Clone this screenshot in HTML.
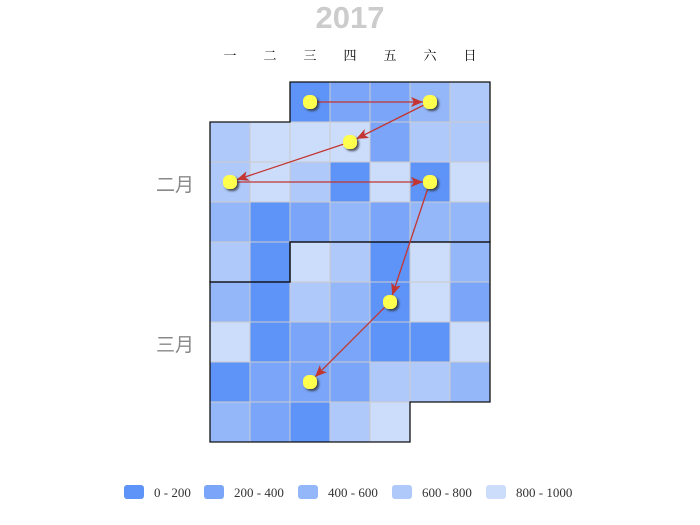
<!DOCTYPE html>
<html><head><meta charset="utf-8"><style>
html,body{margin:0;padding:0;background:#fff;}
svg{display:block;font-family:"Liberation Serif","Noto Serif CJK SC",serif;}
</style></head><body>
<svg id="chart" width="700" height="525">
<defs>
<marker id="arr" viewBox="0 0 12 10" refX="12" refY="5" markerWidth="12" markerHeight="10" markerUnits="userSpaceOnUse" orient="auto"><path d="M0,0 L12,5 L0,10 L3,5 z" fill="#c23531"/></marker>
<filter id="sh" x="-50%" y="-50%" width="200%" height="200%"><feDropShadow dx="2" dy="2" stdDeviation="1" flood-color="#333" flood-opacity="0.8"/></filter>
</defs>
<text x="350" y="28" text-anchor="middle" font-family="Liberation Sans, sans-serif" font-weight="bold" font-size="31" fill="#ccc">2017</text>
<g id="days"></g><g id="cells"></g><g id="borders"></g><g id="lines"></g><g id="dots"></g><g id="legend"></g>
<text x="175" y="191" text-anchor="middle" font-size="19" fill="#888" font-family="Noto Sans CJK SC, sans-serif">二月</text>
<text x="175" y="351" text-anchor="middle" font-size="19" fill="#888" font-family="Noto Sans CJK SC, sans-serif">三月</text>
</svg>
<script>
const dayLabels=["一","二","三","四","五","六","日"];
const startOffset=2;
const values=[100,300,300,500,700, 700,900,900,900,300,700,700, 700,900,700,100,900,100,900, 500,100,300,500,300,500,500, 700,100,900,700,100,900,500, 500,100,700,500,100,900,300, 900,100,300,300,100,100,900, 100,300,300,300,700,700,500, 500,300,100,700,900];
const pointDays=[0,3,8,12,17,37,49];
const pieceLabels=["0 - 200","200 - 400","400 - 600","600 - 800","800 - 1000"];
const pieceMax=[200,400,600,800,1000];
const pieceColors=["#5e93f7","#7aa5f8","#94b7f9","#afc9fa","#ccdcfb"];
const NS="http://www.w3.org/2000/svg";
const X0=210,Y0=82,C=40;
function mk(t,a,p){const e=document.createElementNS(NS,t);for(const k in a)e.setAttribute(k,a[k]);p.appendChild(e);return e;}
function pos(i){const k=i+startOffset;return {col:k%7,row:Math.floor(k/7)};}
function cx(i){return X0+pos(i).col*C+C/2;}
function cy(i){return Y0+pos(i).row*C+C/2;}
function colorOf(v){for(let j=0;j<pieceMax.length;j++)if(v<=pieceMax[j])return pieceColors[j];return pieceColors[4];}
const days=document.getElementById('days');
dayLabels.forEach((d,i)=>{const t=mk('text',{x:X0+i*C+C/2,y:60,'text-anchor':'middle','font-size':13,fill:'#000'},days);t.textContent=d;

});
const cells=document.getElementById('cells');
values.forEach((v,i)=>{const p=pos(i);const r=mk('rect',{x:X0+p.col*C,y:Y0+p.row*C,width:C,height:C,fill:colorOf(v),stroke:'#ccc','stroke-width':1},cells);

});
const b=document.getElementById('borders');
const pf=mk('path',{d:'M290,82 H490 V242 H290 V282 H210 V122 H290 Z',fill:'none',stroke:'#111','stroke-width':1.3},b);


const pm=mk('path',{d:'M290,242 H490 V402 H410 V442 H210 V282 H290 Z',fill:'none',stroke:'#111','stroke-width':1.3},b);


const lines=document.getElementById('lines');
for(let k=0;k<pointDays.length-1;k++){const a=pointDays[k],c=pointDays[k+1];
let x1=cx(a),y1=cy(a),x2=cx(c),y2=cy(c);const dx=x2-x1,dy=y2-y1,L=Math.hypot(dx,dy);
x2-=dx/L*7;y2-=dy/L*7;
const l=mk('line',{x1:x1,y1:y1,x2:x2,y2:y2,stroke:'#c23531','stroke-width':1.3,'marker-end':'url(#arr)'},lines);

}
const dots=document.getElementById('dots');
pointDays.forEach(i=>{const r=mk('rect',{x:cx(i)-7,y:cy(i)-7,width:14,height:14,rx:6,fill:'#ffff4d',filter:'url(#sh)'},dots);

});
const lg=document.getElementById('legend');
const lx=[124,204,298,392,486];
pieceLabels.forEach((s,j)=>{const g=mk('g',{},lg);


mk('rect',{x:lx[j],y:485,width:20,height:14,rx:3,fill:pieceColors[j]},g);
const t=mk('text',{x:lx[j]+30,y:497,'font-size':13,fill:'#333'},g);t.textContent=s;});
</script>
</body></html>
